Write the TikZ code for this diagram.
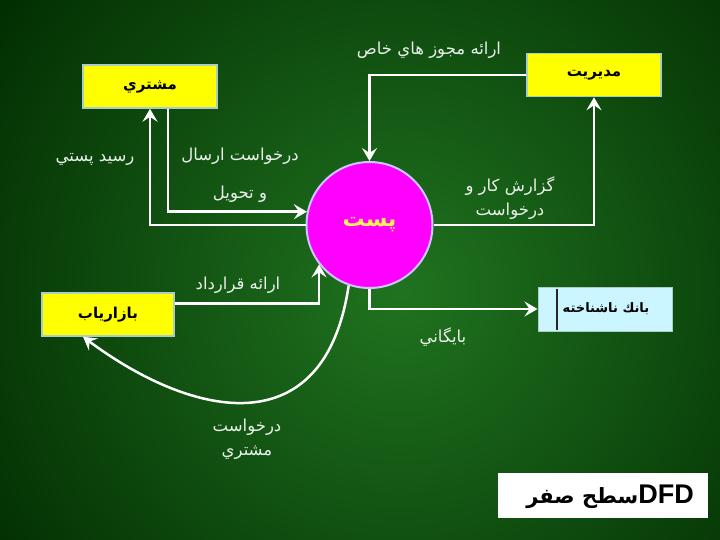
\documentclass[tikz,border=0pt]{standalone}
\usepackage{fontspec}
\setmainfont{DejaVu Sans}
\newfontfamily\arabicfont[Script=Arabic]{DejaVu Sans}
\newfontfamily\latinfont{Liberation Sans}
\TeXXeTstate=1
\usetikzlibrary{arrows.meta}
\definecolor{bgin}{RGB}{32,115,32}
\definecolor{bgout}{RGB}{0,42,0}
\definecolor{boxyellow}{RGB}{255,255,0}
\definecolor{boxedge}{RGB}{170,205,200}
\definecolor{bankfill}{RGB}{204,246,255}
\definecolor{circfill}{RGB}{255,0,255}
\definecolor{circedge}{RGB}{200,200,255}
\definecolor{labeltext}{RGB}{235,240,235}
\definecolor{posttext}{RGB}{255,240,90}
\begin{document}
\begin{tikzpicture}[x=1pt,y=-1pt,
  entity/.style={draw=boxedge,line width=1.5pt,fill=boxyellow,minimum width=134pt,minimum height=43pt,inner sep=0pt,font=\arabicfont\bfseries\fontsize{15}{17}\selectfont,text=black},
  flow/.style={draw=white,line width=2.5pt,-{Stealth[length=13pt,width=15pt,inset=5pt]}},
  lbl/.style={font=\arabicfont\fontsize{16.5}{18}\selectfont,text=labeltext,inner sep=0pt}]
\useasboundingbox (0,0) rectangle (720,540);
\begin{scope}
\clip (0,0) rectangle (720,540);
\fill[bgout] (0,0) rectangle (720,540);
\shade[inner color=bgin,outer color=bgout] (400,290) circle (520);
\end{scope}
% nodes
\node[entity] (moshtari) at (150,86.5) {\beginR مشتري\endR};
\node[entity] (modiriat) at (594,75) {\beginR مديريت\endR};
\node[entity,minimum width=132pt] (bazaryab) at (108,314.5) {\beginR بازارياب\endR};
\node[draw=boxedge,line width=1pt,fill=bankfill,minimum width=134pt,minimum height=44pt,inner sep=0pt] (bank) at (605,309) {};
\node[font=\arabicfont\bfseries\fontsize{13}{15}\selectfont,text=black] (banktext) at (606,309) {\beginR بانك ناشناخته\endR};
\draw[line width=2pt,color=black!85] ([xshift=19pt,yshift=-2pt]bank.north west) -- ([xshift=19pt,yshift=2pt]bank.south west);
\node[circle,draw=circedge,line width=2pt,fill=circfill,minimum size=126pt,inner sep=0pt,font=\arabicfont\bfseries\fontsize{22}{24}\selectfont,text=posttext] (post) at (369.5,225) {\beginR پست\endR};
\node[draw=none,fill=white,minimum width=210pt,minimum height=45pt,inner sep=0pt] (title) at (603,495.5) {};
\node[inner sep=0pt,text=black] (titletext) at (610,497) {\beginR\beginL{\latinfont\bfseries\fontsize{27}{30}\selectfont DFD}\endL{\arabicfont\bfseries\fontsize{21}{30}\selectfont سطح صفر}\endR};
% flows
\draw[flow] ([xshift=18pt]moshtari.south) |- (post.168);
\draw[flow] (post.west) -| (moshtari.south);
\draw[flow] (modiriat.west) -| (post.north);
\draw[flow] (post.east) -| (modiriat.south);
\draw[flow] ([yshift=11pt]bazaryab.east) -| (post.218);
\draw[flow] (post.south) |- (bank.west);
\draw[flow] (post.251) .. controls (325,445) and (195,420) .. ([xshift=-25pt]bazaryab.south);
% labels
\node[lbl] (l1a) at (240,156) {\beginR درخواست ارسال\endR};
\node[lbl] (l1b) at (240,194) {\beginR و تحويل\endR};
\node[lbl] (l2) at (95,159) {\beginR رسيد پستي\endR};
\node[lbl] (l3) at (429,50) {\beginR ارائه مجوز هاي خاص\endR};
\node[lbl] (l4a) at (510,186) {\beginR گزارش كار و\endR};
\node[lbl] (l4b) at (510,211) {\beginR درخواست\endR};
\node[lbl] (l5) at (238,285) {\beginR ارائه قرارداد\endR};
\node[lbl] (l6) at (443,337) {\beginR بايگاني\endR};
\node[lbl] (l7a) at (247,427) {\beginR درخواست\endR};
\node[lbl] (l7b) at (247,453) {\beginR مشتري\endR};
\end{tikzpicture}
\end{document}
